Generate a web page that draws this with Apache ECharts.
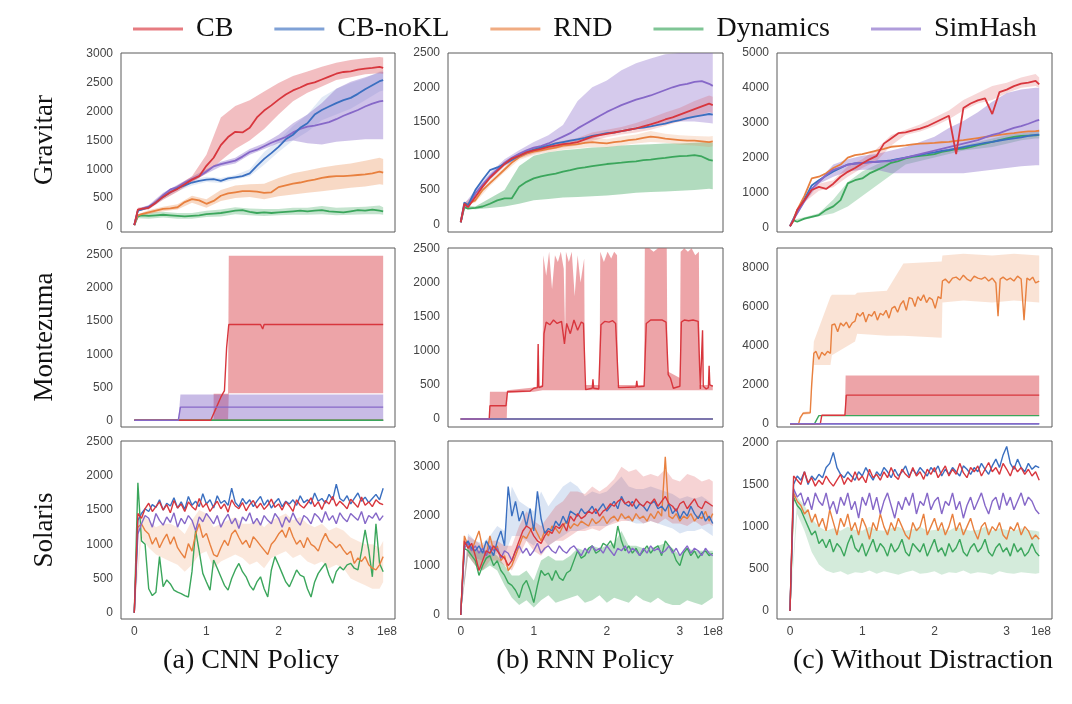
<!DOCTYPE html>
<html><head><meta charset="utf-8">
<script src="https://cdn.jsdelivr.net/npm/echarts@6/dist/echarts.min.js"></script>
<style>html,body{margin:0;padding:0;background:#fff}#c{width:1072px;height:704px}</style>
</head><body><div id="c"></div>
<script>
// ---------- names / ticks ----------
const NAMES = ['CB','CB-noKL','RND','Dynamics','SimHash'];
const ROW_TITLES = ['Gravitar','Montezuma','Solaris'];
const COL_TITLES = ['(a) CNN Policy','(b) RNN Policy','(c) Without Distraction'];
const X_TICKS = [0,1,2,3];
const X_EXP = '1e8';
const Y_TICKS = [
  [0,500,1000,1500,2000,2500,3000],[0,500,1000,1500,2000,2500],[0,1000,2000,3000,4000,5000],
  [0,500,1000,1500,2000,2500],[0,500,1000,1500,2000,2500],[0,2000,4000,6000,8000],
  [0,500,1000,1500,2000,2500],[0,1000,2000,3000],[0,500,1000,1500,2000]
];

// ---------- Gravitar (x in units of 1e8) ----------
const X_G = [0,0.05,0.1,0.2,0.3,0.4,0.5,0.6,0.7,0.8,0.9,1,1.1,1.2,1.3,1.4,1.5,1.6,1.7,1.8,1.9,2,2.1,2.2,2.3,2.4,2.5,2.6,2.7,2.8,2.9,3,3.1,3.2,3.3,3.4,3.45];
const X_GB = [0,0.05,0.2,0.4,0.6,0.8,1,1.2,1.4,1.6,1.8,2,2.2,2.4,2.6,2.8,3,3.2,3.4,3.45];

const G_CNN_CB   = [30,300,310,330,420,520,600,660,740,820,880,1060,1200,1420,1560,1650,1640,1720,1900,2020,2110,2210,2300,2370,2420,2480,2510,2560,2610,2660,2690,2700,2730,2750,2760,2780,2760];
const G_CNN_NOKL = [30,280,300,340,420,520,600,670,720,770,800,820,830,800,840,860,880,930,1060,1180,1280,1390,1520,1600,1720,1800,1950,2030,2090,2150,2200,2240,2310,2390,2460,2530,2550];
const G_CNN_SIM  = [30,290,310,350,430,550,650,690,770,830,880,960,1050,1090,1120,1150,1220,1300,1340,1400,1460,1510,1560,1640,1700,1740,1760,1790,1820,1870,1930,1980,2030,2090,2140,2180,2190];
const G_CNN_RND  = [30,200,220,250,280,310,320,340,430,480,460,400,450,540,580,600,620,620,610,590,600,690,720,750,770,800,820,850,870,880,880,890,900,910,930,960,940];
const G_CNN_DYN  = [30,180,200,190,200,210,200,190,180,190,200,220,230,240,260,280,290,260,240,250,240,250,260,270,280,270,280,290,270,260,250,270,290,280,300,280,270];
const G_CNN_CB_LO   = [30,280,300,470,610,770,930,1150,1350,1500,1700,1950,2180,2330,2440,2550,2600,2650,2670,2660];
const G_CNN_CB_HI   = [30,330,360,570,720,880,1250,1900,2100,2200,2350,2500,2620,2700,2780,2850,2900,2930,2950,2940];
const G_CNN_NOKL_LO = [30,260,320,480,620,720,780,760,820,880,1080,1300,1500,1650,1850,1950,2050,2200,2350,2370];
const G_CNN_NOKL_HI = [30,300,360,560,720,820,870,850,900,1000,1300,1500,1750,1950,2250,2400,2500,2580,2700,2720];
const G_CNN_SIM_LO  = [30,270,320,510,650,790,920,1050,1100,1250,1350,1450,1500,1450,1430,1480,1500,1520,1520,1520];
const G_CNN_SIM_HI  = [30,310,380,590,730,870,1000,1130,1200,1350,1450,1600,1800,1950,2150,2400,2520,2600,2680,2690];
const G_CNN_RND_LO  = [30,180,220,270,300,420,330,450,500,520,480,530,560,590,620,650,680,700,740,730];
const G_CNN_RND_HI  = [30,220,290,350,390,540,480,640,720,740,750,850,930,980,1030,1070,1100,1150,1200,1180];
const G_CNN_DYN_LO  = [30,150,140,160,140,140,170,180,220,200,190,200,210,210,220,200,210,220,220,210];
const G_CNN_DYN_HI  = [30,210,250,260,240,240,280,300,340,320,310,310,330,330,360,330,340,350,370,340];

const G_RNN_CB   = [30,300,250,400,550,680,780,880,960,1000,1050,1080,1100,1130,1150,1170,1180,1200,1240,1280,1300,1320,1340,1360,1380,1400,1430,1460,1490,1530,1560,1600,1640,1680,1720,1760,1740];
const G_RNN_NOKL = [30,320,280,500,650,790,830,880,940,1000,1050,1090,1120,1150,1180,1200,1220,1240,1260,1290,1310,1330,1340,1360,1380,1400,1410,1430,1450,1470,1500,1520,1550,1570,1590,1610,1600];
const G_RNN_SIM  = [30,280,260,450,580,700,800,900,970,1030,1080,1120,1140,1180,1230,1280,1330,1400,1460,1520,1580,1640,1690,1740,1780,1820,1850,1880,1920,1960,2000,2030,2050,2080,2090,2050,2020];
const G_RNN_RND  = [30,280,300,350,500,600,700,800,900,980,1030,1060,1080,1100,1120,1150,1160,1170,1190,1200,1190,1180,1200,1210,1230,1240,1260,1280,1270,1250,1240,1230,1220,1220,1210,1200,1210];
const G_RNN_DYN  = [30,250,230,240,260,300,350,380,380,550,620,670,700,720,740,770,790,815,830,850,865,880,890,900,912,920,937,945,960,970,985,995,1000,1010,990,940,930];
const G_RNN_SIM_LO = [30,260,400,650,850,980,1060,1100,1150,1200,1250,1320,1380,1420,1450,1480,1500,1500,1480,1470];
const G_RNN_SIM_HI = [30,300,500,750,950,1080,1200,1300,1450,1800,2000,2100,2250,2350,2420,2480,2500,2500,2500,2500];
const G_RNN_DYN_LO = [30,230,220,240,260,300,350,370,390,400,410,420,440,460,470,480,490,500,520,510];
const G_RNN_DYN_HI = [30,270,260,380,500,850,1000,1050,1080,1100,1120,1130,1150,1160,1170,1180,1180,1190,1200,1190];
const G_RNN_RND_LO = [30,260,320,560,760,940,1010,1050,1090,1110,1130,1120,1150,1180,1200,1190,1160,1150,1130,1140];
const G_RNN_RND_HI = [30,300,380,640,840,1020,1110,1150,1210,1230,1270,1240,1280,1310,1360,1320,1300,1290,1280,1290];
const G_RNN_CB_LO  = [30,280,370,650,850,960,1030,1080,1120,1150,1220,1270,1310,1340,1380,1440,1500,1560,1640,1620];
const G_RNN_CB_HI  = [30,320,430,720,920,1040,1130,1180,1220,1260,1340,1380,1420,1480,1550,1630,1700,1800,1880,1860];

const G_WO_CB   = [30,200,500,780,1070,1160,1100,1250,1450,1590,1700,1830,1950,2050,2400,2550,2700,2720,2780,2830,2900,3000,3100,3200,2100,3420,3550,3640,3700,3250,3880,3950,4050,4120,4150,4200,4100];
const G_WO_RND  = [30,250,500,900,1400,1450,1550,1700,1800,2000,2070,2100,2150,2200,2250,2310,2330,2350,2380,2400,2410,2420,2440,2450,2480,2500,2530,2560,2590,2620,2650,2680,2700,2730,2750,2760,2770];
const G_WO_NOKL = [30,250,450,800,1200,1350,1480,1600,1700,1800,1830,1850,1870,1880,1900,1920,1960,2000,2040,2080,2120,2150,2190,2220,2260,2300,2340,2380,2420,2450,2490,2520,2550,2580,2620,2650,2660];
const G_WO_SIM  = [30,230,400,750,1100,1300,1500,1650,1720,1800,1830,1850,1860,1880,1890,1900,1950,2000,2050,2100,2150,2200,2250,2300,2350,2400,2450,2500,2580,2650,2700,2780,2850,2900,2970,3050,3080];
const G_WO_DYN  = [30,200,160,250,300,350,500,600,780,1260,1350,1400,1545,1640,1736,1850,1900,1975,2020,2050,2070,2100,2165,2200,2240,2260,2300,2356,2400,2450,2500,2550,2595,2620,2630,2640,2650];
const G_WO_SIM_LO = [30,220,700,1250,1450,1600,1650,1650,1550,1550,1550,1550,1550,1550,1600,1650,1700,1750,1780,1780];
const G_WO_SIM_HI = [30,250,820,1350,1800,1950,2050,2100,2200,2300,2450,2600,2850,3050,3300,3600,3850,3950,4000,4000];
const G_WO_DYN_LO = [30,180,220,320,400,600,900,1200,1500,1800,1900,2000,2100,2200,2250,2300,2400,2500,2550,2550];
const G_WO_DYN_HI = [30,220,290,400,800,1300,1600,1800,1950,2000,2080,2170,2250,2350,2450,2550,2650,2700,2750,2750];
const G_WO_CB_LO  = [30,180,720,1050,1150,1450,1700,1900,2350,2650,2750,2900,3100,3350,3550,3650,3850,4000,4050,4000];
const G_WO_CB_HI  = [30,220,840,1250,1350,1750,1950,2250,2650,2800,2950,3150,3350,3650,3850,4050,4150,4300,4400,4300];

// ---------- Montezuma (step curves) ----------
const M_FLAT_X = [0,3.45];
const M_FLAT_Y = [0,0];
const M_CNN_CB_X = [0,1.06,1.12,1.2,1.25,1.28,1.31,1.75,1.78,1.8,3.45];
const M_CNN_CB   = [0,0,150,350,450,1100,1450,1450,1380,1450,1450];
const M_CNN_CB_BX = [1.1,1.3,1.31,3.45];
const M_CNN_CB_LO = [0,0,410,410];
const M_CNN_CB_HI = [400,400,2490,2490];
const M_CNN_SIM_X = [0,0.61,0.64,3.45];
const M_CNN_SIM   = [0,0,200,200];
const M_CNN_SIM_BX = [0.61,0.64,3.45];
const M_CNN_SIM_LO = [0,0,0];
const M_CNN_SIM_HI = [0,390,390];

const M_RNN_CB_X = [0,0.39,0.40,0.62,0.64,0.95,1.00,1.05,1.06,1.07,1.12,1.14,1.17,1.22,1.27,1.32,1.38,1.42,1.45,1.50,1.55,1.60,1.65,1.68,1.71,1.80,1.81,1.82,1.89,1.92,1.97,2.03,2.08,2.12,2.16,2.40,2.41,2.42,2.51,2.54,2.60,2.68,2.76,2.81,2.84,2.87,2.91,3.0,3.02,3.06,3.12,3.18,3.25,3.28,3.30,3.31,3.32,3.36,3.39,3.40,3.41,3.45];
const M_RNN_CB   = [0,0,195,195,400,410,450,460,1100,460,480,1250,1420,1380,1450,1400,1430,1100,1400,1250,1450,1300,1420,1400,430,450,580,450,440,1380,1430,1420,1440,1400,460,470,560,470,480,1400,1450,1450,1450,1420,650,600,450,480,1420,1450,1440,1450,1430,440,450,1300,480,440,460,780,500,480];
const M_RNN_CB_BX = [0.39,0.40,0.63,0.64,1.00,1.12,1.13,1.17,1.21,1.25,1.29,1.33,1.37,1.41,1.43,1.44,1.48,1.52,1.56,1.60,1.64,1.69,1.70,1.90,1.91,1.96,2.01,2.06,2.10,2.14,2.15,2.51,2.52,2.58,2.64,2.70,2.76,2.82,2.83,3.00,3.01,3.06,3.11,3.16,3.21,3.26,3.27,3.45];
const M_RNN_CB_LO = [0,0,0,380,400,420,420,420,420,420,420,420,420,420,420,420,420,420,420,420,420,420,420,420,420,420,420,420,420,420,420,420,420,420,420,420,420,420,420,420,420,420,420,420,420,420,420,420];
const M_RNN_CB_HI = [0,400,400,420,460,500,2400,2100,2450,1900,2400,2300,2450,2200,1200,2450,2300,2450,1800,2400,2000,2350,500,500,2450,2300,2450,2350,2450,2400,500,500,2500,2500,2450,2500,2500,2500,700,600,2450,2500,2450,2500,2400,2450,500,500];

const M_WO_RND_X = [0,0.12,0.14,0.18,0.28,0.30,0.33,0.36,0.40,0.44,0.48,0.52,0.56,0.58,0.62,0.66,0.70,0.74,0.78,0.82,0.86,0.90,0.93,0.97,1.01,1.05,1.09,1.13,1.17,1.21,1.25,1.29,1.33,1.37,1.41,1.45,1.49,1.53,1.57,1.61,1.65,1.69,1.73,1.77,1.81,1.85,1.89,1.93,1.97,2.01,2.05,2.09,2.11,2.15,2.20,2.25,2.30,2.35,2.40,2.45,2.50,2.55,2.60,2.65,2.70,2.75,2.80,2.85,2.88,2.91,2.95,3.00,3.05,3.10,3.15,3.20,3.24,3.28,3.32,3.36,3.40,3.45];
const M_WO_RND   = [0,0,300,530,560,2000,3600,3700,3300,3650,3500,3700,3600,5050,5100,4700,5150,5000,5200,4900,5150,5250,5650,5500,5700,5200,5600,5500,5750,5300,5650,5550,5800,5400,5900,6000,5700,6100,6300,5800,6450,6400,6000,6500,6300,6600,6200,6450,6350,5900,6500,6400,7300,7400,7200,7450,7500,7350,7600,7400,7300,7550,7450,7400,7500,7300,7450,7200,5500,7400,7500,7350,7450,7300,7550,7400,5300,7450,7350,7500,7200,7300];
const M_WO_RND_BX = [0.12,0.18,0.28,0.33,0.56,0.58,0.90,0.93,1.34,1.57,2.10,2.11,2.40,2.80,3.10,3.45];
const M_WO_RND_LO = [0,450,500,3000,3000,3500,4200,4600,4500,4500,4400,6200,6300,6200,6300,6200];
const M_WO_RND_HI = [0,600,650,4200,6500,6600,6600,6700,6800,8200,8300,8600,8700,8600,8700,8600];
const M_WO_CB_X = [0,0.42,0.44,0.76,0.78,3.45];
const M_WO_CB   = [0,0,430,430,1460,1460];
const M_WO_CB_BX = [0.44,0.76,0.77,3.45];
const M_WO_CB_LO = [400,400,420,420];
const M_WO_CB_HI = [460,460,2460,2460];
const M_WO_DYN_X = [0,0.34,0.40,3.45];
const M_WO_DYN   = [0,0,410,410];

// ---------- Solaris ----------
const X_S = [0,0.05,0.1,0.15,0.2,0.25,0.3,0.35,0.4,0.45,0.5,0.55,0.6,0.65,0.7,0.75,0.8,0.85,0.9,0.95,1,1.05,1.1,1.15,1.2,1.25,1.3,1.35,1.4,1.45,1.5,1.55,1.6,1.65,1.7,1.75,1.8,1.85,1.9,1.95,2,2.05,2.1,2.15,2.2,2.25,2.3,2.35,2.4,2.45,2.5,2.55,2.6,2.65,2.7,2.75,2.8,2.85,2.9,2.95,3,3.05,3.1,3.15,3.2,3.25,3.3,3.35,3.4,3.45];
const X_SB = [0,0.1,0.2,0.3,0.4,0.5,0.6,0.7,0.8,0.9,1,1.1,1.2,1.3,1.4,1.5,1.6,1.7,1.8,1.9,2,2.1,2.2,2.3,2.4,2.5,2.6,2.7,2.8,2.9,3,3.1,3.2,3.3,3.4,3.45];

const S_CNN_CB = [0,1450,1380,1520,1600,1480,1550,1620,1500,1580,1460,1640,1530,1590,1480,1620,1550,1500,1670,1540,1600,1480,1560,1630,1520,1590,1470,1650,1560,1520,1610,1490,1580,1640,1530,1600,1510,1570,1660,1540,1590,1500,1620,1560,1480,1650,1570,1530,1600,1680,1550,1620,1510,1640,1590,1700,1560,1630,1580,1520,1660,1600,1540,1690,1570,1620,1550,1650,1600,1580];
const S_CNN_NOKL = [0,1350,1450,1520,1480,1580,1540,1650,1500,1600,1560,1680,1530,1620,1510,1700,1570,1630,1550,1740,1590,1650,1530,1710,1600,1640,1570,1820,1610,1550,1670,1590,1650,1550,1630,1700,1570,1650,1530,1610,1670,1550,1630,1590,1650,1570,1710,1610,1650,1590,1750,1630,1670,1600,1730,1650,1880,1670,1630,1710,1590,1670,1750,1630,1690,1610,1670,1730,1650,1820];
const S_CNN_SIM = [0,1150,1300,1420,1380,1250,1450,1350,1280,1400,1320,1460,1250,1380,1300,1420,1350,1200,1400,1330,1450,1380,1300,1420,1250,1360,1440,1300,1380,1230,1400,1340,1460,1300,1380,1280,1420,1350,1300,1450,1380,1250,1400,1320,1460,1350,1280,1420,1380,1300,1450,1400,1320,1480,1350,1420,1300,1460,1380,1330,1450,1400,1350,1480,1300,1420,1380,1460,1350,1420];
const S_CNN_RND = [0,1250,1300,1200,1150,1000,1100,950,1060,1150,1000,1110,950,870,800,1010,900,1150,1300,1100,1160,1000,850,820,950,1060,980,1150,1210,1100,1000,1060,950,1110,1050,980,915,850,1000,1060,1150,1210,1100,1250,1110,1000,1060,950,1100,1000,965,900,1050,1160,1050,1010,950,1000,915,850,900,720,800,750,820,700,650,625,700,820];
const S_CNN_DYN = [0,1900,1050,1000,350,250,300,820,380,480,420,330,300,280,250,230,600,1200,900,575,450,330,770,650,525,400,330,500,625,720,600,525,400,330,450,525,350,230,625,820,700,575,450,380,500,625,550,525,350,230,450,575,650,720,550,430,600,670,625,700,720,650,625,900,1210,915,525,1300,720,600];
const S_CNN_RND_LO = [0,1100,950,850,800,750,700,600,700,850,900,650,750,800,850,800,700,750,650,800,850,900,800,850,750,700,750,650,700,650,500,450,400,350,350,450];
const S_CNN_RND_HI = [0,1450,1350,1250,1300,1300,1250,1150,1350,1500,1450,1250,1300,1350,1400,1300,1300,1350,1250,1350,1400,1450,1350,1400,1300,1250,1300,1200,1250,1200,1100,1050,1000,1000,950,1050];

const S_RNN_CB = [0,1500,1350,1450,1200,900,1100,1300,1250,1400,1300,1200,1150,1000,1100,1300,1500,1700,1800,1750,1600,1500,1450,1600,1700,1650,1800,1750,1850,1700,2000,1900,2050,1950,2000,2100,2050,2150,2000,2100,2150,2250,2200,2300,2350,2250,2300,2200,2350,2250,2200,2300,2250,2350,2200,2300,2400,2250,2200,2100,2250,2300,2150,2250,2350,2200,2150,2300,2250,2200];
const S_RNN_NOKL = [0,1400,1500,1350,1300,1400,1250,1500,1350,1200,1500,1700,1400,2600,2000,2300,1900,2100,1800,2150,1700,2500,1950,1650,1750,1700,1900,1800,2000,1850,2100,2050,2000,2150,2050,2100,2200,2050,2150,2250,2100,2200,2300,2150,2400,2250,2200,2300,2150,2250,2200,2100,2250,2300,2150,2200,2100,2250,2050,2150,1950,2100,2000,2200,2050,1950,2100,1900,2000,1850];
const S_RNN_RND = [0,1600,1400,1300,1500,1700,1350,1200,1600,1300,1400,1100,1200,900,1000,1200,1400,1600,1550,1700,1800,1650,1500,1700,1600,1800,1750,1650,1800,1900,1750,1850,1800,1900,1850,1800,1950,1850,1900,2000,1850,1950,2000,1900,2050,1950,2000,1900,2050,1950,2000,1900,2050,1950,2100,2000,3200,2000,1950,2050,1900,2000,1950,2050,1900,2000,1950,2100,1900,2050];
const S_RNN_SIM = [0,1350,1450,1300,1400,1250,1350,1200,1400,1300,1350,1150,1300,1250,1100,1300,1400,1250,1350,1200,1300,1450,1250,1350,1400,1300,1250,1400,1300,1250,1350,1400,1300,1200,1350,1250,1400,1300,1350,1250,1400,1300,1200,1350,1300,1400,1250,1350,1300,1200,1350,1250,1400,1300,1350,1250,1300,1400,1250,1350,1200,1300,1400,1250,1350,1300,1200,1350,1250,1200];
const S_RNN_DYN = [0,1350,1300,1200,1100,800,1000,1150,1200,1000,1100,900,800,650,600,500,350,600,700,500,250,600,900,800,850,700,900,750,700,850,900,1100,1300,1150,1200,1350,1400,1250,1300,1450,1400,1500,1350,1800,1500,1300,1400,1250,1350,1200,1300,1400,1250,1350,1400,1200,1500,1400,1300,1100,1000,1250,1350,1200,1300,1150,1250,1300,1200,1250];
const S_RNN_CB_LO = [0,1200,1000,900,1100,1100,1000,900,1200,1500,1300,1200,1400,1500,1500,1600,1700,1700,1750,1700,1800,1850,1900,1900,1950,1850,1900,1850,1950,1850,1850,1800,1900,1800,1850,1800];
const S_RNN_CB_HI = [0,1600,1500,1400,1500,1500,1400,1400,1800,2100,1900,1800,2000,2200,2300,2500,2500,2450,2600,2500,2600,2750,3000,2900,2950,2800,2850,2800,2950,2750,2700,2850,2800,2700,2750,2700];
const S_RNN_DYN_LO = [0,1200,1000,900,1000,900,600,350,200,300,150,300,400,250,300,350,400,250,300,400,250,350,300,250,400,300,250,350,250,200,200,300,250,200,300,350];
const S_RNN_DYN_HI = [0,1400,1300,1300,1300,1200,1000,800,800,900,700,1100,1200,1100,1100,1200,1350,1300,1400,1350,1400,1450,1700,1400,1400,1350,1350,1400,1450,1350,1200,1350,1300,1300,1300,1300];
const S_RNN_NOKL_LO = [0,1300,1150,1100,1150,1250,1200,1600,1600,1500,1400,1600,1400,1500,1600,1700,1700,1750,1800,1800,1800,1900,1950,1900,1850,1850,1900,1850,1800,1750,1650,1700,1700,1750,1650,1600];
const S_RNN_NOKL_HI = [0,1650,1500,1450,1600,1800,1700,2600,2300,2200,2100,2500,2200,2400,2600,2700,2600,2400,2500,2450,2500,2650,2800,2600,2550,2550,2600,2550,2500,2450,2350,2400,2350,2400,2300,2200];

const S_WO_CB = [0,1600,1550,1500,1650,1520,1580,1480,1550,1500,1600,1530,1480,1550,1620,1500,1580,1530,1650,1550,1600,1520,1680,1580,1620,1550,1650,1580,1700,1600,1560,1680,1620,1580,1700,1600,1650,1560,1680,1620,1700,1580,1650,1720,1600,1680,1620,1750,1640,1580,1700,1650,1720,1600,1680,1760,1650,1700,1620,1750,1680,1600,1720,1650,1700,1620,1680,1600,1650,1550];
const S_WO_NOKL = [0,1500,1600,1550,1650,1500,1600,1550,1620,1580,1700,1750,1880,1700,1620,1580,1650,1600,1550,1650,1600,1700,1620,1550,1650,1600,1700,1650,1580,1680,1600,1650,1720,1600,1680,1620,1700,1650,1600,1700,1650,1720,1600,1680,1620,1700,1650,1600,1720,1680,1620,1700,1650,1750,1680,1620,1720,1800,1700,1850,1950,1750,1680,1800,1700,1650,1750,1680,1720,1700];
const S_WO_SIM = [0,1450,1350,1400,1250,1350,1200,1400,1300,1250,1400,1200,1300,1150,1350,1250,1400,1200,1300,1100,1350,1250,1400,1200,1350,1150,1300,1400,1250,1100,1300,1200,1350,1250,1400,1150,1300,1250,1400,1200,1300,1350,1150,1300,1250,1400,1200,1300,1100,1250,1350,1200,1300,1400,1250,1150,1300,1350,1200,1400,1250,1350,1200,1300,1400,1250,1350,1300,1200,1150];
const S_WO_RND = [0,1400,1300,1250,1150,1200,1050,1150,1000,1100,950,1200,1050,900,1100,1000,1150,950,1050,900,1100,1000,850,1050,950,1150,1000,900,1050,950,1100,1000,900,850,1050,950,1000,1150,900,1000,1100,950,1050,900,1000,1150,950,1050,900,1000,1100,950,850,1000,1050,900,1000,950,1050,900,850,1000,950,1050,900,1000,950,850,900,850];
const S_WO_DYN = [0,1350,1250,1200,1100,1000,900,950,800,850,750,850,700,800,750,650,800,900,750,700,800,650,750,850,700,800,750,650,800,700,750,850,700,650,800,750,700,800,650,750,850,700,750,650,800,700,750,850,700,650,750,800,700,750,850,700,650,750,800,700,750,650,800,700,750,650,700,800,700,650];
const S_WO_DYN_LO = [0,1150,950,700,550,480,450,470,430,460,450,480,440,470,450,430,460,480,440,450,470,430,460,450,480,440,460,450,430,470,450,440,460,450,440,450];
const S_WO_DYN_HI = [0,1350,1250,1100,1000,950,980,950,1000,960,950,1000,960,950,980,1000,950,970,1000,950,960,980,950,1000,970,950,960,1000,950,980,960,950,980,960,950,940];

// ---------- layout / style ----------
const COLOR = {'CB':'#d8363d','CB-noKL':'#3a6fc0','RND':'#e8803f','Dynamics':'#3ba65c','SimHash':'#8668c8'};
const GRIDS = [[121,53,274,179],[448,53,275,179],[777,53,275,179],[121,248,274,179],[448,248,275,179],[777,248,275,179],[121,441,274,178],[448,441,275,178],[777,441,275,178]];
const YR = [[-90,3020],[-112,2500],[-135,5000],[-101,2606],[-117,2505],[-170,8990],[-92,2510],[-81,3520],[-95,2015]];
const XR = [[-0.184,3.614],[-0.174,3.59],[-0.18,3.627]];

const PANELS = [
 {lw:1.8, bands:[['Dynamics',X_GB,G_CNN_DYN_LO,G_CNN_DYN_HI,0.3],['RND',X_GB,G_CNN_RND_LO,G_CNN_RND_HI,0.3],['CB-noKL',X_GB,G_CNN_NOKL_LO,G_CNN_NOKL_HI,0.15],['SimHash',X_GB,G_CNN_SIM_LO,G_CNN_SIM_HI,0.4],['CB',X_GB,G_CNN_CB_LO,G_CNN_CB_HI,0.32]],
  lines:[['Dynamics',X_G,G_CNN_DYN],['RND',X_G,G_CNN_RND],['SimHash',X_G,G_CNN_SIM],['CB-noKL',X_G,G_CNN_NOKL],['CB',X_G,G_CNN_CB]]},
 {lw:1.8, bands:[['Dynamics',X_GB,G_RNN_DYN_LO,G_RNN_DYN_HI,0.4],['RND',X_GB,G_RNN_RND_LO,G_RNN_RND_HI,0.2],['SimHash',X_GB,G_RNN_SIM_LO,G_RNN_SIM_HI,0.35],['CB',X_GB,G_RNN_CB_LO,G_RNN_CB_HI,0.2]],
  lines:[['Dynamics',X_G,G_RNN_DYN],['RND',X_G,G_RNN_RND],['SimHash',X_G,G_RNN_SIM],['CB-noKL',X_G,G_RNN_NOKL],['CB',X_G,G_RNN_CB]]},
 {lw:1.8, bands:[['Dynamics',X_GB,G_WO_DYN_LO,G_WO_DYN_HI,0.3],['SimHash',X_GB,G_WO_SIM_LO,G_WO_SIM_HI,0.4],['CB',X_GB,G_WO_CB_LO,G_WO_CB_HI,0.2]],
  lines:[['Dynamics',X_G,G_WO_DYN],['RND',X_G,G_WO_RND],['CB-noKL',X_G,G_WO_NOKL],['SimHash',X_G,G_WO_SIM],['CB',X_G,G_WO_CB]]},
 {lw:1.4, bands:[['CB',M_CNN_CB_BX,M_CNN_CB_LO,M_CNN_CB_HI,0.45],['SimHash',M_CNN_SIM_BX,M_CNN_SIM_LO,M_CNN_SIM_HI,0.45]],
  lines:[['CB-noKL',M_FLAT_X,M_FLAT_Y],['RND',M_FLAT_X,M_FLAT_Y],['Dynamics',M_FLAT_X,M_FLAT_Y],['CB',M_CNN_CB_X,M_CNN_CB],['SimHash',M_CNN_SIM_X,M_CNN_SIM]]},
 {lw:1.4, bands:[['CB',M_RNN_CB_BX,M_RNN_CB_LO,M_RNN_CB_HI,0.45]],
  lines:[['CB-noKL',M_FLAT_X,M_FLAT_Y],['RND',M_FLAT_X,M_FLAT_Y],['Dynamics',M_FLAT_X,M_FLAT_Y],['CB',M_RNN_CB_X,M_RNN_CB],['SimHash',M_FLAT_X,M_FLAT_Y]]},
 {lw:1.4, bands:[['RND',M_WO_RND_BX,M_WO_RND_LO,M_WO_RND_HI,0.22],['CB',M_WO_CB_BX,M_WO_CB_LO,M_WO_CB_HI,0.45]],
  lines:[['CB-noKL',M_FLAT_X,M_FLAT_Y],['RND',M_WO_RND_X,M_WO_RND],['Dynamics',M_WO_DYN_X,M_WO_DYN],['CB',M_WO_CB_X,M_WO_CB],['SimHash',M_FLAT_X,M_FLAT_Y]]},
 {lw:1.4, bands:[['RND',X_SB,S_CNN_RND_LO,S_CNN_RND_HI,0.18]],
  lines:[['Dynamics',X_S,S_CNN_DYN],['RND',X_S,S_CNN_RND],['SimHash',X_S,S_CNN_SIM],['CB-noKL',X_S,S_CNN_NOKL],['CB',X_S,S_CNN_CB]]},
 {lw:1.4, bands:[['Dynamics',X_SB,S_RNN_DYN_LO,S_RNN_DYN_HI,0.35],['CB-noKL',X_SB,S_RNN_NOKL_LO,S_RNN_NOKL_HI,0.18],['CB',X_SB,S_RNN_CB_LO,S_RNN_CB_HI,0.22]],
  lines:[['Dynamics',X_S,S_RNN_DYN],['RND',X_S,S_RNN_RND],['SimHash',X_S,S_RNN_SIM],['CB-noKL',X_S,S_RNN_NOKL],['CB',X_S,S_RNN_CB]]},
 {lw:1.4, bands:[['Dynamics',X_SB,S_WO_DYN_LO,S_WO_DYN_HI,0.22]],
  lines:[['Dynamics',X_S,S_WO_DYN],['RND',X_S,S_WO_RND],['SimHash',X_S,S_WO_SIM],['CB-noKL',X_S,S_WO_NOKL],['CB',X_S,S_WO_CB]]}
];

const SANS = 'Liberation Sans, Arial, sans-serif';
const SERIF = 'Liberation Serif, Times New Roman, serif';
const grid=[], xAxis=[], yAxis=[], series=[];

function bandSeries(gi, name, xs, lo, hi, op) {
  return {
    type:'custom', name:name+' band', xAxisIndex:gi, yAxisIndex:gi, silent:true, z:1,
    data: xs.map((x,i)=>[x, lo[i], hi[i]]),
    encode:{x:0, y:[1,2]},
    renderItem: function(params, api) {
      if (params.dataIndexInside !== 0) return null;
      const pts = [];
      for (let i=0;i<xs.length;i++) pts.push(api.coord([xs[i], hi[i]]));
      for (let i=xs.length-1;i>=0;i--) pts.push(api.coord([xs[i], lo[i]]));
      return {type:'polygon', shape:{points:pts}, style:{fill:COLOR[name], opacity:op}};
    }
  };
}

PANELS.forEach((p, gi) => {
  const g = GRIDS[gi], row = Math.floor(gi/3), col = gi%3;
  grid.push({left:g[0], top:g[1], width:g[2], height:g[3], show:true, borderColor:'#5a5a5a', borderWidth:1, backgroundColor:'transparent'});
  xAxis.push({type:'value', gridIndex:gi, min:XR[col][0], max:XR[col][1],
    axisLine:{show:false}, axisTick:{show:false}, splitLine:{show:false},
    axisLabel: row===2 ? {show:true, customValues:X_TICKS, formatter:v=>String(v), fontSize:12, color:'#444', fontFamily:SANS, margin:7} : {show:false}});
  yAxis.push({type:'value', gridIndex:gi, min:YR[gi][0], max:YR[gi][1],
    axisLine:{show:false}, axisTick:{show:false}, splitLine:{show:false},
    axisLabel:{show:true, customValues:Y_TICKS[gi], formatter:v=>String(v), fontSize:12, color:'#444', fontFamily:SANS, margin:8}});
  p.bands.forEach(([name, xs, lo, hi, op]) => series.push(bandSeries(gi, name, xs, lo, hi, op)));
  p.lines.forEach(([name, xs, ys]) => {
    series.push({type:'line', name:name, xAxisIndex:gi, yAxisIndex:gi, silent:true, z:2,
      data: xs.map((x,i)=>[x, ys[i]]), symbol:'none', showSymbol:false,
      lineStyle:{width:p.lw, color:COLOR[name]}, itemStyle:{color:COLOR[name]}});
  });
});

const graphic = [];
const rowY = [140, 337, 530];
ROW_TITLES.forEach((t,i)=>graphic.push({type:'text', x:45, y:rowY[i], rotation:Math.PI/2,
  style:{text:t, fontSize:27, fontFamily:SERIF, fill:'#111', textAlign:'center', align:'center', textVerticalAlign:'middle', verticalAlign:'middle'}}));
const capX = [251, 585, 923];
COL_TITLES.forEach((t,i)=>graphic.push({type:'text', x:capX[i], y:661,
  style:{text:t, fontSize:28, fontFamily:SERIF, fill:'#111', textAlign:'center', align:'center', textVerticalAlign:'middle', verticalAlign:'middle'}}));
const expX = [387, 713, 1041];
expX.forEach(x=>graphic.push({type:'text', x:x, y:632,
  style:{text:X_EXP, fontSize:12, fontFamily:SANS, fill:'#444', textAlign:'center', align:'center', textVerticalAlign:'middle', verticalAlign:'middle'}}));

const chart = echarts.init(document.getElementById('c'), null, {renderer:'canvas'});
chart.setOption({
  animation:false,
  backgroundColor:'#fff',
  legend:{data:NAMES, left:128, top:10, icon:'rect', itemWidth:50, itemHeight:3, itemGap:41,
    itemStyle:{opacity:0.65}, textStyle:{fontFamily:SERIF, fontSize:28, color:'#111', padding:[0,0,0,8]}},
  grid, xAxis, yAxis, series, graphic
});
</script></body></html>
